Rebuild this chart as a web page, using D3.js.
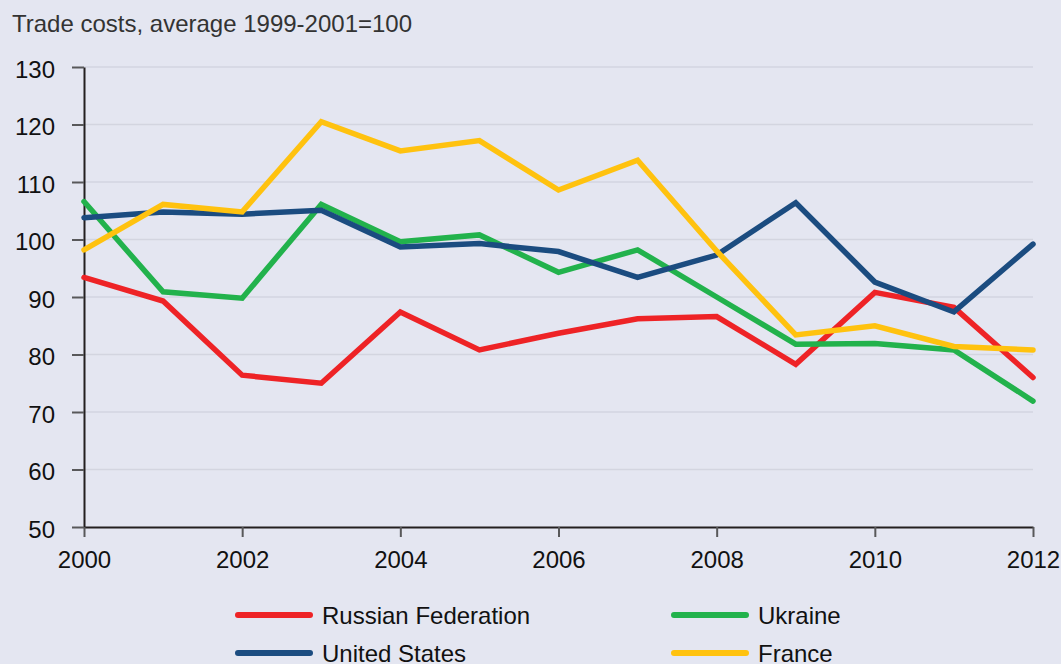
<!DOCTYPE html>
<html>
<head>
<meta charset="utf-8">
<script src="https://cdn.jsdelivr.net/npm/d3@7"></script>
<style>
    html, body { margin: 0; padding: 0; background: #e4e6f1; }
    svg { display: block; font-family: "Liberation Sans", Arial, Helvetica, sans-serif; }
    .axis .domain { stroke: #231f20; stroke-width: 2; }
    .axis .tick line { stroke: #58585a; stroke-width: 2; }
    .axis .tick text { fill: #111; font-size: 24px; }
    .grid line { stroke: #d3d5e0; stroke-width: 1.6; }
    .series { fill: none; stroke-width: 5.5; stroke-linejoin: miter; stroke-linecap: round; }
</style>
</head>
<body>
<svg id="chart"></svg>
<script>
(function () {
    'use strict';

    const W = 1061, H = 664;

    // ── Data ──────────────────────────────────────────────────────────────
    const YEARS = [2000, 2001, 2002, 2003, 2004, 2005, 2006, 2007, 2008, 2009, 2010, 2011, 2012];

    const RUSSIA  = [93.4, 89.3, 76.4, 75.0, 87.4, 80.8, 83.7, 86.2, 86.6, 78.3, 90.8, 88.2, 76.0];
    const UKRAINE = [106.6, 90.9, 89.8, 106.1, 99.6, 100.8, 94.3, 98.2, 90.0, 81.8, 81.9, 80.8, 71.9];
    const USA     = [103.8, 104.8, 104.4, 105.1, 98.7, 99.3, 97.9, 93.4, 97.3, 106.4, 92.6, 87.4, 99.2];
    const FRANCE  = [98.2, 106.1, 104.8, 120.5, 115.4, 117.2, 108.6, 113.8, 98.0, 83.4, 85.0, 81.4, 80.8];

    const SERIES_NAMES  = ['Russian Federation', 'Ukraine', 'United States', 'France'];
    const SERIES_COLORS = ['#ee2326', '#22b24c', '#1b4c80', '#ffc20f'];

    const Y_TICKS = [50, 60, 70, 80, 90, 100, 110, 120, 130];
    const X_TICKS = [2000, 2002, 2004, 2006, 2008, 2010, 2012];
    const TITLE = 'Trade costs, average 1999-2001=100';

    const series = [RUSSIA, UKRAINE, USA, FRANCE].map(function (vals, i) {
        return {
            name: SERIES_NAMES[i],
            color: SERIES_COLORS[i],
            points: vals.map(function (v, j) { return { year: YEARS[j], value: v }; })
        };
    });

    // ── Layout ────────────────────────────────────────────────────────────
    const plot = { left: 84, right: 1033, top: 67, bottom: 527 };

    const svg = d3.select('#chart').attr('width', W).attr('height', H);

    const x = d3.scaleLinear().domain([2000, 2012]).range([plot.left, plot.right]);
    const y = d3.scaleLinear().domain([50, 130]).range([plot.bottom, plot.top]);

    svg.append('text')
        .attr('x', 12).attr('y', 32)
        .attr('font-size', 24)
        .attr('fill', '#333')
        .text(TITLE);

    // gridlines
    svg.append('g').attr('class', 'grid')
        .selectAll('line')
        .data(Y_TICKS.filter(function (t) { return t > 50; }))
        .enter().append('line')
        .attr('x1', plot.left).attr('x2', plot.right)
        .attr('y1', function (d) { return y(d); })
        .attr('y2', function (d) { return y(d); });

    // axes
    svg.append('g').attr('class', 'axis')
        .attr('transform', 'translate(' + plot.left + ',0)')
        .call(d3.axisLeft(y).tickValues(Y_TICKS).tickSize(12).tickSizeOuter(0).tickPadding(17))
        .selectAll('.tick text').attr('dy', '0.42em');

    svg.append('g').attr('class', 'axis')
        .attr('transform', 'translate(0,' + plot.bottom + ')')
        .call(d3.axisBottom(x).tickValues(X_TICKS).tickFormat(d3.format('d'))
            .tickSize(10).tickSizeOuter(0).tickPadding(14));

    // lines
    const line = d3.line()
        .x(function (d) { return x(d.year); })
        .y(function (d) { return y(d.value); });

    svg.append('g').selectAll('path.series')
        .data(series)
        .enter().append('path')
        .attr('class', 'series')
        .attr('stroke', function (d) { return d.color; })
        .attr('d', function (d) { return line(d.points); });

    // legend: two columns, two rows
    const legendCols = [238, 674];
    const legendRows = [615, 653];
    const legend = svg.append('g').selectAll('g')
        .data(series)
        .enter().append('g')
        .attr('transform', function (d, i) {
            return 'translate(' + legendCols[i % 2] + ',' + legendRows[Math.floor(i / 2)] + ')';
        });

    legend.append('line')
        .attr('x1', 0).attr('x2', 72)
        .attr('stroke', function (d) { return d.color; })
        .attr('stroke-width', 6)
        .attr('stroke-linecap', 'round');

    legend.append('text')
        .attr('x', 84).attr('dy', '0.36em')
        .attr('font-size', 24)
        .attr('fill', '#111')
        .text(function (d) { return d.name; });
})();
</script>
</body>
</html>
